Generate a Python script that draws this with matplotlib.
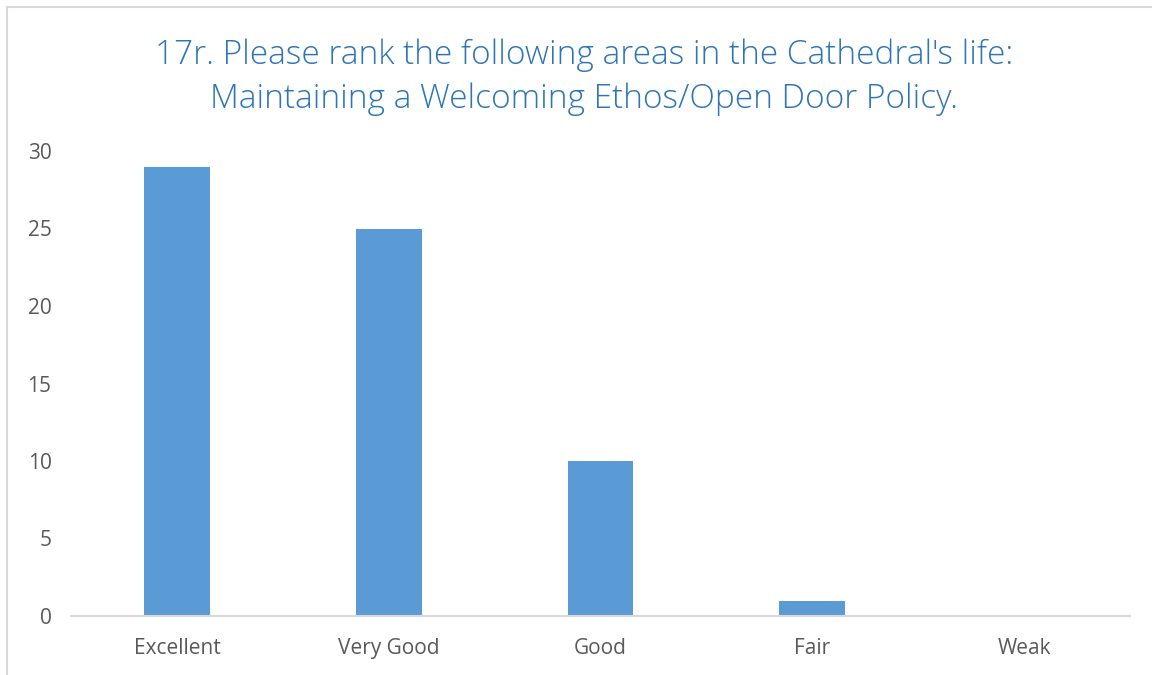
import matplotlib
matplotlib.use("Agg")
import matplotlib.pyplot as plt
from matplotlib.lines import Line2D

categories = ["Excellent", "Very Good", "Good", "Fair", "Weak"]
values = [29, 25, 10, 1, 0]
yticks = [0, 5, 10, 15, 20, 25, 30]
title = "17r. Please rank the following areas in the Cathedral's life:\nMaintaining a Welcoming Ethos/Open Door Policy."

plt.rcParams['font.family'] = ['Open Sans', 'DejaVu Sans']

fig = plt.figure(figsize=(11.52, 6.75), dpi=100)
ax = fig.add_axes([71/1152, 1 - 616/675, (1130 - 71)/1152, (616 - 151)/675])

x = list(range(len(categories)))
ax.bar(x, values, width=0.31, color="#5B9BD5", zorder=2)

ax.set_xlim(-0.5, len(categories) - 0.5)
ax.set_ylim(0, 30)
ax.set_yticks(yticks)
ax.set_xticks(x)
ax.set_xticklabels(categories)
ax.tick_params(axis='both', length=0, labelsize=15, colors="#595959")
ax.tick_params(axis='y', pad=14)
ax.tick_params(axis='x', pad=16)
for s in ["top", "right", "left"]:
    ax.spines[s].set_visible(False)
ax.spines["bottom"].set_color("#D9D9D9")
ax.spines["bottom"].set_linewidth(1.5)

fig.text(584/1152, 1 - 77/675, title, ha="center", va="center", fontsize=24,
         color="#2E75B6", linespacing=1.4, fontweight="light")

# chart border
fig.add_artist(Line2D([7/1152, 7/1152], [0, 1 - 7/675], transform=fig.transFigure, color="#D9D9D9", lw=1.5))
fig.add_artist(Line2D([7/1152, 1], [1 - 7/675, 1 - 7/675], transform=fig.transFigure, color="#D9D9D9", lw=1.5))

fig.savefig("out.png", dpi=100)
